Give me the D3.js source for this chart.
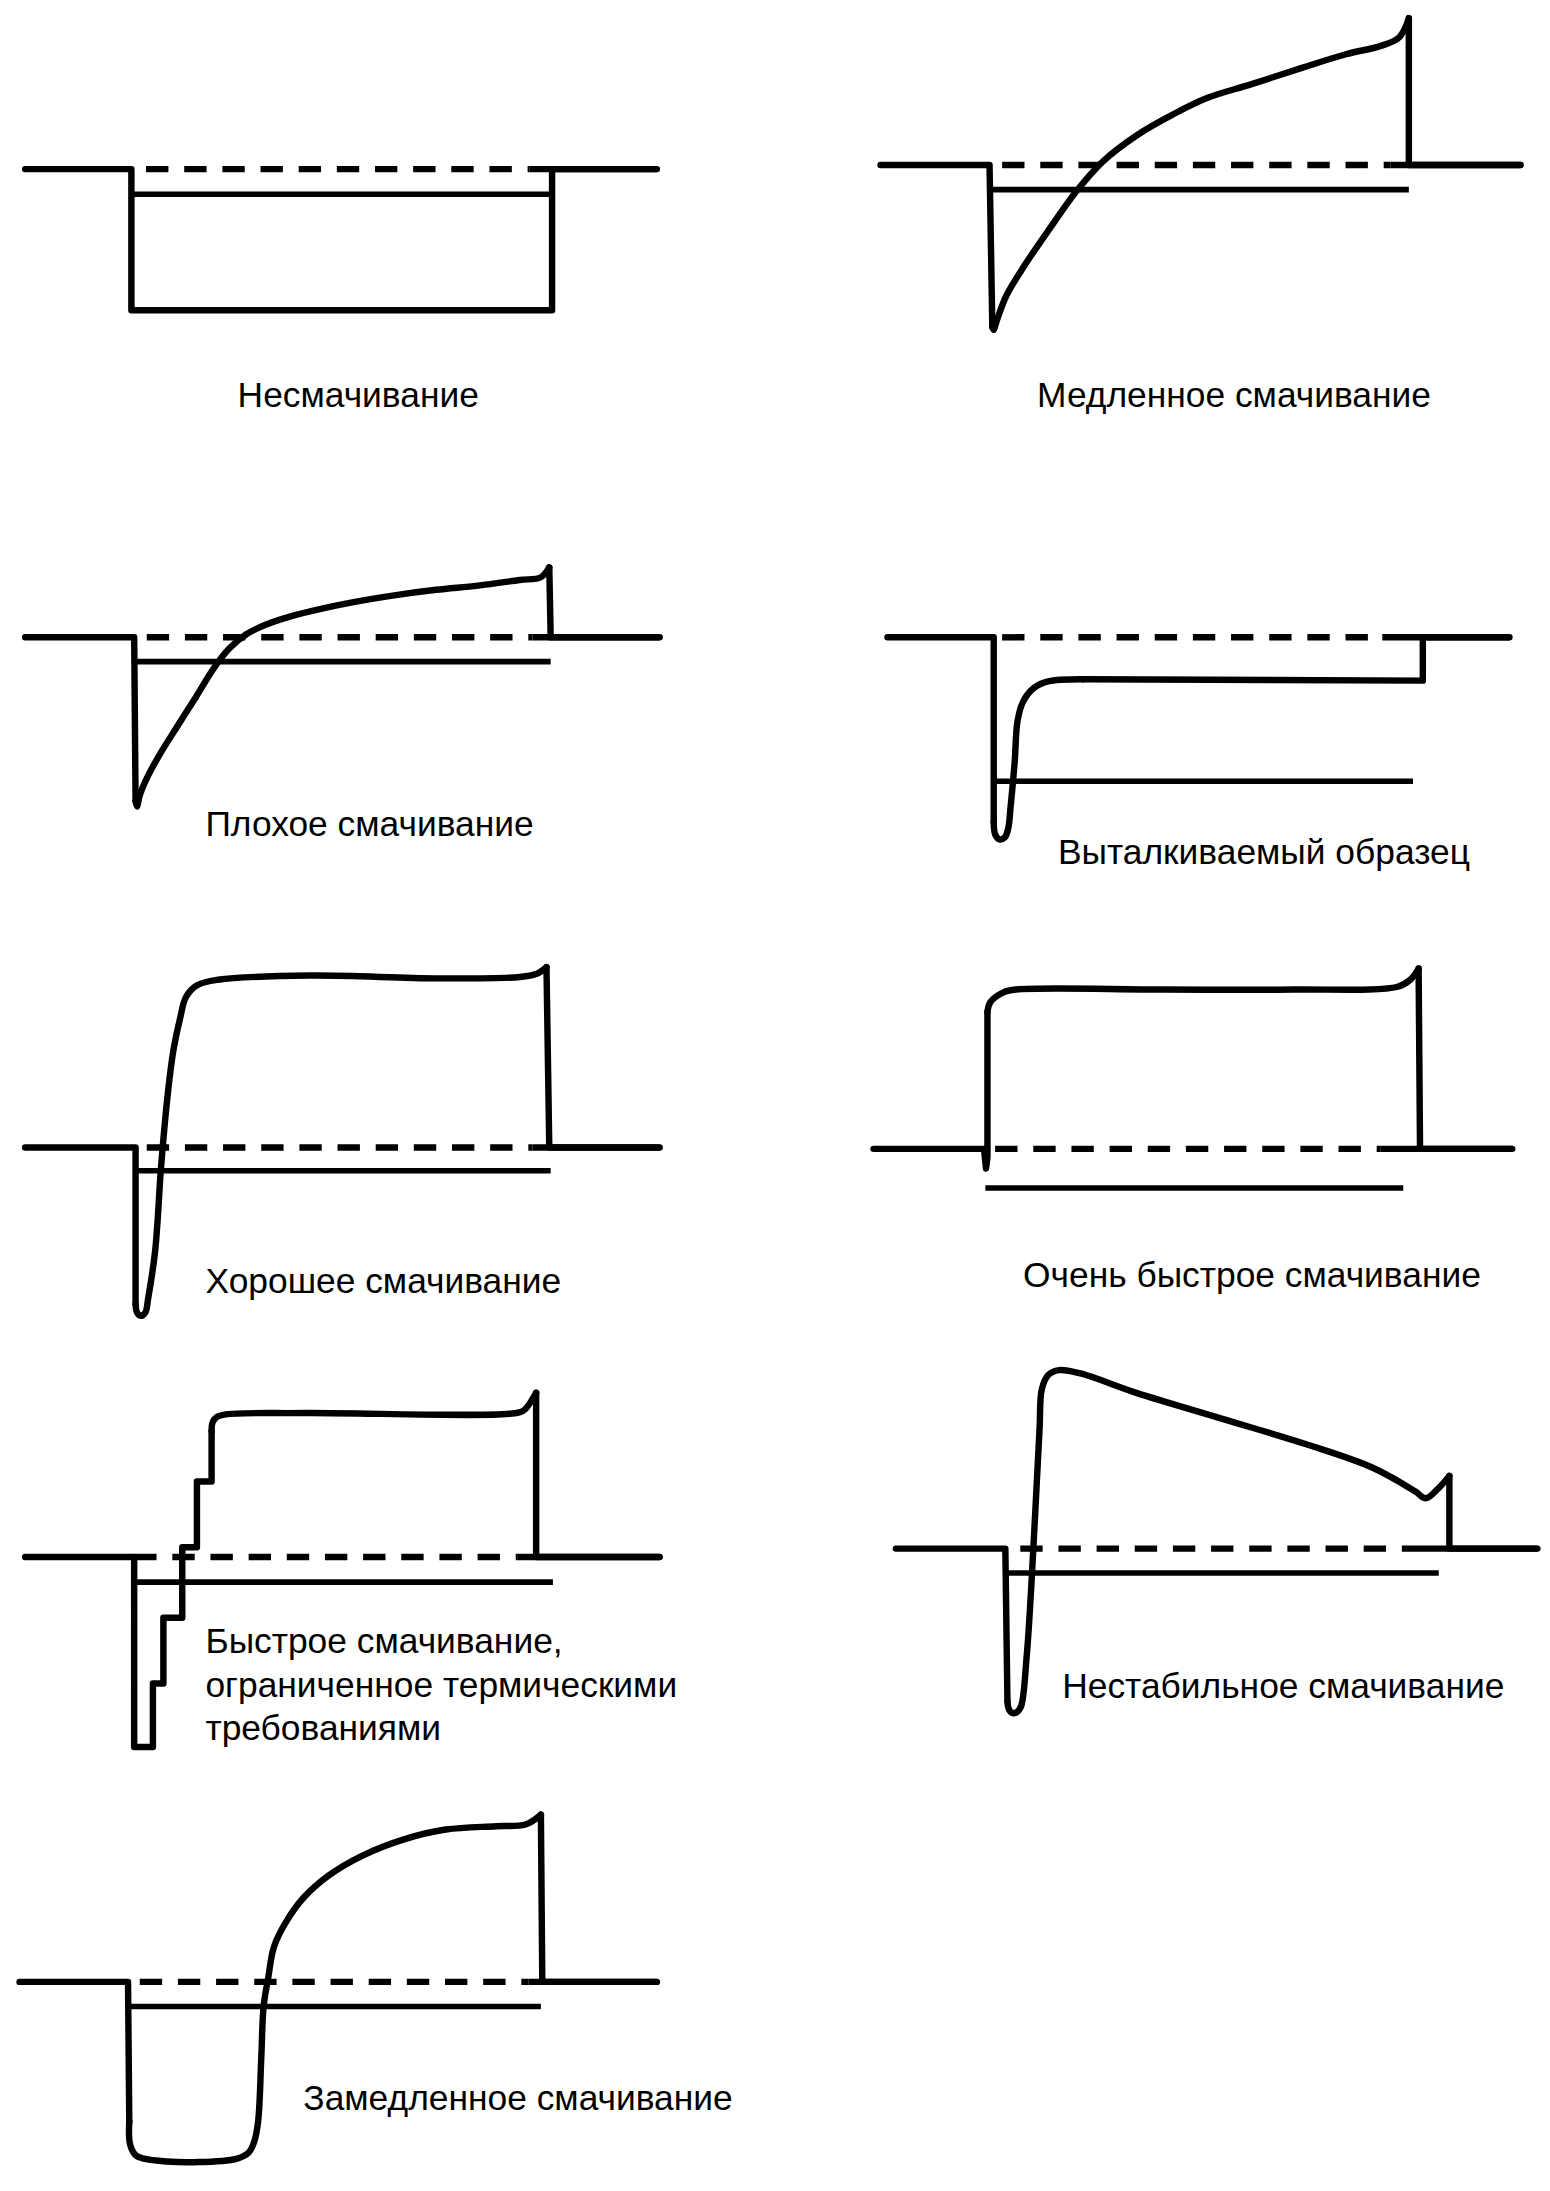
<!DOCTYPE html>
<html lang="ru">
<head>
<meta charset="UTF-8">
<title>Кривые смачивания</title>
<script src="https://d3js.org/d3.v7.min.js"></script>
<style>
    body { margin: 0; background: #fff; }
    .lbl { font-family: "Liberation Sans", Arial, sans-serif; fill: #000; }
</style>
</head>
<body>
<svg id="main" width="1550" height="2191"></svg>
<script>
// curve pieces: [smooth?, [[t, F], ...]]  (t = time, F = force, 0 = zero line)
const nonWetCurve = [
    [false, [[0,0],[76,0],[76,-101],[377,-101],[377,0],[452,0]]]
];
const slowCurve = [
    [false, [[0,0],[78,0],[80,-116]]],
    [true,  [[80,-116],[81,-118],[83,-112],[90,-93.6],[103,-72],[121,-45.6],[140,-19],[159,2.4],[184,21.6],[209,36],[234,48],[265,57.6],[302,69.6],[333,79.2],[358,85.2],[371,91.2],[378,105]]],
    [false, [[378,105],[378,0],[458,0]]]
];
const poorCurve = [
    [false, [[0,0],[78,0],[79,-117]]],
    [true,  [[79,-117],[80,-121],[82,-113],[86,-103],[95,-86],[108,-65],[122,-43],[135,-22],[146,-8],[158,2],[172,9],[190,15],[210,20],[234,25],[264,30],[294,34],[324,37],[354,41],[369,43],[375,50]]],
    [false, [[375,50],[376,0],[454,0]]]
];
const pushedCurve = [
    [false, [[0,0],[76,0],[76,-132]]],
    [true,  [[76,-132],[77,-141],[80,-144.5],[84,-143],[86.5,-136],[88,-122],[91,-89],[93,-60],[97,-46],[105,-36],[115,-31.5],[140,-30]]],
    [false, [[140,-30],[383,-31],[383,0],[445,0]]]
];
const goodCurve = [
    [false, [[0,0],[79,0],[79,-112]]],
    [true,  [[79,-112],[80,-118],[82.5,-120.5],[86,-118],[88,-108],[93,-74],[97,-17],[99,7],[102,38],[106,69],[111,93],[115,107.5],[123,116],[138,120],[204,123],[294,121],[354,122],[366,124.3],[373,129]]],
    [false, [[373,129],[375,0],[454,0]]]
];
const veryFastCurve = [
    [false, [[0,0],[79,0],[80.5,-14],[81.5,-6],[81.5,98]]],
    [true,  [[81.5,98],[83.6,105],[93,112],[102,114],[207.6,114],[300.5,114],[375,116],[384,121],[390,129]]],
    [false, [[390,129],[391,0],[457,0]]]
];
const fastThermalCurve = [
    [false, [[0,0],[78,0],[78,-136],[91.4,-136],[91.4,-90.5],[98.9,-90.5],[98.9,-43.5],[112.4,-43.5],[112.4,7],[122.9,7],[122.9,54],[133.4,54],[133.4,90]]],
    [true,  [[133.4,90],[134,96],[137,100],[143.5,102],[200,103],[353.6,103.4],[358,106],[365.6,117.5]]],
    [false, [[365.6,117.5],[365.6,0],[454,0]]]
];
const unstableCurve = [
    [false, [[0,0],[78.3,0],[79.8,-109]]],
    [true,  [[79.8,-109],[80.5,-114],[83,-117.5],[86.5,-117],[89.5,-113],[93.6,-76.6],[96.7,-30],[99.8,28],[102.8,86],[104.4,114],[109,124.2],[116.7,127.7],[132,125.3],[172,111.4],[233,93],[294.7,74.3],[340.8,58],[371.5,41],[379,36],[387,42],[396,52]]],
    [false, [[396,52],[396,0],[459,0]]]
];
const delayedCurve = [
    [false, [[0,0],[77.6,0],[78.5,-100]]],
    [true,  [[78.5,-100],[79,-116],[83,-124],[89,-126.5],[105,-128.5],[125,-129],[155,-126.6],[164,-122],[168,-114],[170.7,-99.7],[173,-52.8],[174.6,-17.6],[178,3.5],[182,25],[191,43.4],[203,60],[221,76],[245,90.2],[275,102],[305,109],[341,111.4],[362,112.6],[373,119.6]]],
    [false, [[373,119.6],[374,0],[456,0]]]
];

// reference level: [F, t from, t to]
const refLevels = [[-18,76,377],[-17.7,79,378],[-17.4,78,376],[-103,76,376],[-16.7,79,376],[-28,80,379],[-18,78,377.6],[-17.4,79.8,388.4],[-17.6,77.6,373]];
// dashed zero line: [t from, t where solid line resumes]
const zeroDash = [[86.5,361],[87,365],[87,363],[82,354],[87,363],[87,362.5],[78,352],[89,365],[86,364]];

const captions = [
    ["Несмачивание"],
    ["Медленное смачивание"],
    ["Плохое смачивание"],
    ["Выталкиваемый образец"],
    ["Хорошее смачивание"],
    ["Очень быстрое смачивание"],
    ["Быстрое смачивание,", "ограниченное термическими", "требованиями"],
    ["Нестабильное смачивание"],
    ["Замедленное смачивание"]
];

const curves = [nonWetCurve, slowCurve, poorCurve, pushedCurve, goodCurve, veryFastCurve, fastThermalCurve, unstableCurve, delayedCurve];

// layout (in 1109-wide reference units): zero-line origin, curve end, caption anchor
const layout = [
    {ox: 18,  oy: 121,  end: 452, lx: 170, ly: 291},
    {ox: 630, oy: 118,  end: 458, lx: 742, ly: 291},
    {ox: 18,  oy: 456,  end: 454, lx: 147, ly: 598},
    {ox: 635, oy: 456,  end: 445, lx: 757, ly: 618},
    {ox: 18,  oy: 821,  end: 454, lx: 147, ly: 925},
    {ox: 625, oy: 822,  end: 457, lx: 732, ly: 921},
    {ox: 18,  oy: 1114, end: 454, lx: 147, ly: 1183},
    {ox: 641, oy: 1108, end: 459, lx: 760, ly: 1215},
    {ox: 14,  oy: 1418, end: 456, lx: 217, ly: 1510}
];

const K = 1550 / 1109;
const svg = d3.select('svg#main');

layout.forEach(function (L, i) {
    let x = d3.scaleLinear().domain([0, L.end]).range([L.ox * K, (L.ox + L.end) * K]);
    let y = d3.scaleLinear().domain([-150, 150]).range([(L.oy + 150) * K, (L.oy - 150) * K]);
    let g = svg.append('g');

    let ref = refLevels[i];
    g.append('line')
        .attr('x1', x(ref[1])).attr('x2', x(ref[2]))
        .attr('y1', y(ref[0])).attr('y2', y(ref[0]))
        .attr('stroke', '#000').attr('stroke-width', 4 * K);

    let dz = zeroDash[i];
    g.append('line')
        .attr('x1', x(dz[0])).attr('x2', x(dz[1]))
        .attr('y1', y(0)).attr('y2', y(0))
        .attr('stroke', '#000').attr('stroke-width', 4.6 * K)
        .attr('stroke-dasharray', [16 * K, 11.3 * K].join(' '));
    g.append('line')
        .attr('x1', x(dz[1])).attr('x2', x(L.end))
        .attr('y1', y(0)).attr('y2', y(0))
        .attr('stroke', '#000').attr('stroke-width', 4.6 * K);

    g.selectAll('path.curve')
        .data(curves[i])
        .enter()
        .append('path')
        .attr('class', 'curve')
        .attr('d', function (piece) {
            return d3.line()
                .x(function (d) { return x(d[0]); })
                .y(function (d) { return y(d[1]); })
                .curve(piece[0] ? d3.curveCatmullRom.alpha(0.5) : d3.curveLinear)(piece[1]);
        })
        .attr('fill', 'none')
        .attr('stroke', '#000')
        .attr('stroke-width', 4.6 * K)
        .attr('stroke-linejoin', 'round')
        .attr('stroke-linecap', 'round');

    g.selectAll('text')
        .data(captions[i])
        .enter()
        .append('text')
        .attr('class', 'lbl')
        .attr('x', L.lx * K)
        .attr('y', function (d, j) { return (L.ly + j * 31) * K; })
        .style('font-size', (25.3 * K) + 'px')
        .text(function (d) { return d; });
});
</script>
</body>
</html>
